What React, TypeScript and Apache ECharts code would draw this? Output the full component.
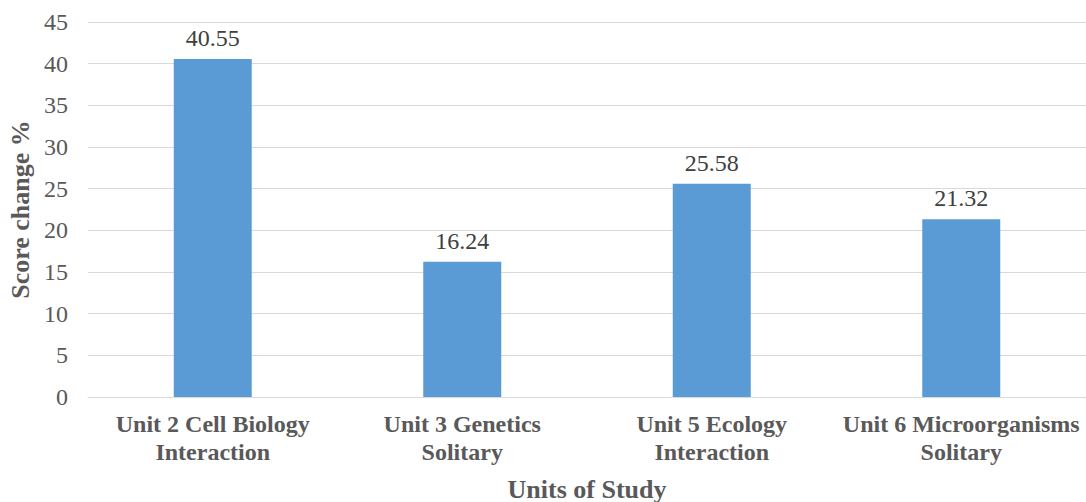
import React, { useEffect, useRef } from "react";
import * as echarts from "echarts";

const categories = [
  "Unit 2 Cell Biology\nInteraction",
  "Unit 3 Genetics\nSolitary",
  "Unit 5 Ecology\nInteraction",
  "Unit 6 Microorganisms\nSolitary",
];
const scoreChange = [40.55, 16.24, 25.58, 21.32];
const yTicks = { min: 0, max: 45, interval: 5 };

export default function App() {
  const ref = useRef<HTMLDivElement>(null);
  useEffect(() => {
    if (!ref.current) return;
    const chart = echarts.init(ref.current, null, { renderer: "svg" });
    const font = "'Liberation Serif', 'Times New Roman', serif";
    chart.setOption({
      animation: false,
      textStyle: { fontFamily: font },
      grid: { left: 88, right: 0, top: 22, bottom: 105, containLabel: false, outerBoundsMode: "none" },
      xAxis: {
        type: "category",
        data: categories,
        name: "Units of Study",
        nameLocation: "middle",
        nameGap: 79,
        nameTextStyle: { fontFamily: font, fontSize: 26, fontWeight: "bold", color: "#595959" },
        axisLine: { show: true, lineStyle: { color: "#d9d9d9", width: 1 } },
        axisTick: { show: false },
        axisLabel: {
          interval: 0,
          margin: 13,
          fontFamily: font,
          fontSize: 24,
          fontWeight: "bold",
          color: "#595959",
          lineHeight: 28,
        },
      },
      yAxis: {
        type: "value",
        min: yTicks.min,
        max: yTicks.max,
        interval: yTicks.interval,
        name: "Score change %",
        nameLocation: "middle",
        nameGap: 51,
        nameTextStyle: { fontFamily: font, fontSize: 26, fontWeight: "bold", color: "#595959" },
        axisLine: { show: false },
        axisTick: { show: false },
        axisLabel: { margin: 20, fontFamily: font, fontSize: 24, color: "#595959" },
        splitLine: { lineStyle: { color: "#d9d9d9", width: 1 } },
      },
      series: [
        {
          type: "bar",
          data: scoreChange,
          barWidth: 78,
          itemStyle: { color: "#5b9bd5" },
          label: {
            show: true,
            position: "top",
            distance: 9,
            fontFamily: font,
            fontSize: 24,
            color: "#404040",
            formatter: (p: any) => p.value.toFixed(2),
          },
        },
      ],
    });
    return () => chart.dispose();
  }, []);
  return (
    <div
      ref={ref}
      style={{ position: "absolute", left: 0, top: 0, width: 1086, height: 502, background: "#fff" }}
    />
  );
}
